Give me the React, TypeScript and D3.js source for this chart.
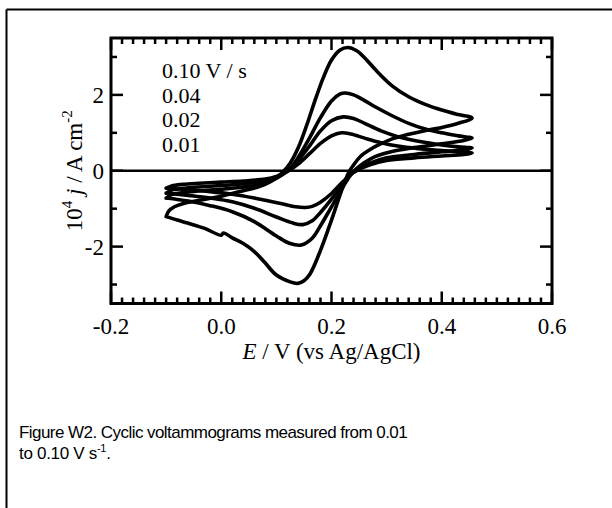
import React from "react";
import * as d3 from "d3";

// ---------- data (E in V, j in 10^-4 A cm^-2) ----------
const legendLabels = ["0.10 V / s", "0.04", "0.02", "0.01"];
const xTickLabels = ["-0.2", "0.0", "0.2", "0.4", "0.6"];
const yTickLabels = ["-2", "0", "2"];

const cv010: [number, number][] = [
  [-0.1, -1.21], [-0.095, -1.06], [-0.085, -0.95], [-0.07, -0.87], [-0.04, -0.78], [0.0, -0.67],
  [0.04, -0.53], [0.07, -0.41], [0.09, -0.28], [0.11, -0.06], [0.125, 0.2], [0.14, 0.62],
  [0.155, 1.2], [0.17, 1.85], [0.185, 2.45], [0.2, 2.92], [0.215, 3.18], [0.23, 3.25],
  [0.245, 3.17], [0.26, 2.98], [0.28, 2.66], [0.31, 2.24], [0.34, 1.95], [0.37, 1.75],
  [0.4, 1.6], [0.43, 1.48], [0.455, 1.39],
  [0.43, 1.25], [0.4, 1.14], [0.367, 1.05], [0.34, 0.96], [0.31, 0.84], [0.288, 0.7],
  [0.27, 0.56], [0.252, 0.37], [0.24, 0.15], [0.232, -0.02], [0.22, -0.45], [0.2, -1.3],
  [0.18, -2.1], [0.161, -2.72], [0.15, -2.9], [0.139, -2.97], [0.125, -2.93], [0.1, -2.75],
  [0.079, -2.42], [0.06, -2.13], [0.04, -1.92], [0.02, -1.77], [0.004, -1.64], [0.0, -1.7],
  [-0.03, -1.52], [-0.061, -1.38], [-0.08, -1.3], [-0.1, -1.21],
];

const cv004: [number, number][] = [
  [-0.1, -0.72], [-0.09, -0.63], [-0.06, -0.56], [-0.02, -0.51], [0.02, -0.46], [0.06, -0.39],
  [0.09, -0.27], [0.11, -0.11], [0.125, 0.06], [0.14, 0.36], [0.16, 0.86], [0.18, 1.4],
  [0.2, 1.84], [0.215, 2.02], [0.225, 2.05], [0.24, 2.0], [0.26, 1.85], [0.28, 1.68],
  [0.31, 1.45], [0.34, 1.25], [0.37, 1.1], [0.4, 1.0], [0.43, 0.92], [0.455, 0.86],
  [0.44, 0.8], [0.4, 0.71], [0.35, 0.61], [0.31, 0.51], [0.28, 0.38], [0.26, 0.22],
  [0.245, 0.05], [0.235, -0.1], [0.22, -0.45], [0.2, -0.95], [0.18, -1.45], [0.165, -1.78],
  [0.145, -1.96], [0.125, -1.92], [0.1, -1.72], [0.06, -1.34], [0.02, -1.08], [-0.02, -0.92],
  [-0.06, -0.8], [-0.1, -0.72],
];

const cv002: [number, number][] = [
  [-0.1, -0.59], [-0.09, -0.51], [-0.06, -0.45], [-0.02, -0.41], [0.02, -0.37], [0.06, -0.31],
  [0.09, -0.22], [0.11, -0.1], [0.125, 0.05], [0.14, 0.28], [0.16, 0.65], [0.18, 1.05],
  [0.2, 1.32], [0.221, 1.42], [0.24, 1.38], [0.26, 1.25], [0.29, 1.05], [0.32, 0.9],
  [0.36, 0.77], [0.4, 0.68], [0.43, 0.63], [0.455, 0.6],
  [0.44, 0.55], [0.4, 0.5], [0.35, 0.43], [0.3, 0.34], [0.27, 0.2], [0.25, 0.05],
  [0.236, -0.08], [0.22, -0.35], [0.2, -0.75], [0.18, -1.1], [0.165, -1.32], [0.148, -1.42],
  [0.13, -1.38], [0.1, -1.22], [0.06, -0.99], [0.02, -0.82], [-0.02, -0.72], [-0.06, -0.65],
  [-0.1, -0.59],
];

const cv001: [number, number][] = [
  [-0.1, -0.46], [-0.09, -0.4], [-0.07, -0.36], [-0.04, -0.33], [0.0, -0.3], [0.04, -0.27],
  [0.08, -0.22], [0.1, -0.15], [0.12, -0.02], [0.14, 0.18], [0.16, 0.45], [0.18, 0.72],
  [0.2, 0.92], [0.218, 1.0], [0.235, 0.97], [0.26, 0.86], [0.29, 0.74], [0.32, 0.65],
  [0.36, 0.58], [0.4, 0.53], [0.43, 0.5], [0.455, 0.47],
  [0.44, 0.43], [0.4, 0.39], [0.35, 0.34], [0.3, 0.27], [0.27, 0.16], [0.25, 0.04],
  [0.238, -0.06], [0.22, -0.3], [0.2, -0.6], [0.18, -0.83], [0.165, -0.94], [0.153, -0.97],
  [0.135, -0.95], [0.11, -0.87], [0.08, -0.78], [0.06, -0.72], [0.02, -0.62], [-0.02, -0.55],
  [-0.06, -0.5], [-0.1, -0.46],
];

const curves = [cv010, cv004, cv002, cv001];

// ---------- layout ----------
const W = 612;
const H = 508;
const left = 111;
const right = 552;
const top = 38;
const bottom = 303.5;

const serif = "'Liberation Serif', 'Times New Roman', serif";
const sans = "'Liberation Sans', Arial, sans-serif";
const axisFont = 23;

export default function App() {
  const x = d3.scaleLinear().domain([-0.2, 0.6]).range([left, right]);
  const y = d3.scaleLinear().domain([-3.5, 3.5]).range([bottom, top]);

  const line = d3
    .line<[number, number]>()
    .x((d) => x(d[0]))
    .y((d) => y(d[1]))
    .curve(d3.curveCatmullRom.alpha(0.5));

  const xMinor = d3.range(-0.2, 0.6001, 0.02);
  const xMajor = xTickLabels.map(Number);
  const yTicks = d3.range(-3, 3.001, 1);
  const yMajor = yTickLabels.map(Number);

  const isMajorX = (v: number) => xMajor.some((m) => Math.abs(m - v) < 1e-6);
  const isMajorY = (v: number) => yMajor.some((m) => Math.abs(m - v) < 1e-6);

  return (
    <svg
      width={W}
      height={H}
      style={{ position: "absolute", left: 0, top: 0, background: "#fff" }}
    >
      <rect x={0} y={0} width={W} height={H} fill="#fff" />
      {/* outer frame */}
      <line x1={6.5} y1={9.5} x2={W} y2={9.5} stroke="#000" strokeWidth={2} />
      <line x1={6.5} y1={9.5} x2={6.5} y2={H} stroke="#000" strokeWidth={2} />

      {/* zero line */}
      <line x1={left} x2={right} y1={y(0)} y2={y(0)} stroke="#000" strokeWidth={2.5} />

      <defs>
        <clipPath id="plotclip">
          <rect x={left} y={top} width={right - left} height={bottom - top} />
        </clipPath>
      </defs>

      {/* curves */}
      <g clipPath="url(#plotclip)">
        {curves.map((c, i) => (
          <path
            key={i}
            d={line(c) || ""}
            fill="none"
            stroke="#000"
            strokeWidth={3.6}
            strokeLinejoin="round"
            strokeLinecap="round"
          />
        ))}
      </g>

      {/* x ticks bottom & top */}
      {xMinor.map((v, i) => {
        const len = isMajorX(v) ? 12 : 6;
        return (
          <g key={"xt" + i}>
            <line x1={x(v)} x2={x(v)} y1={bottom} y2={bottom - len} stroke="#000" strokeWidth={2.5} />
            <line x1={x(v)} x2={x(v)} y1={top} y2={top + len} stroke="#000" strokeWidth={2.5} />
          </g>
        );
      })}
      {/* y ticks left & right */}
      {yTicks.map((v, i) => {
        const len = isMajorY(v) ? 12 : 6;
        return (
          <g key={"yt" + i}>
            <line x1={left} x2={left + len} y1={y(v)} y2={y(v)} stroke="#000" strokeWidth={2.5} />
            <line x1={right} x2={right - len} y1={y(v)} y2={y(v)} stroke="#000" strokeWidth={2.5} />
          </g>
        );
      })}

      {/* frame of plot */}
      <rect
        x={left}
        y={top}
        width={right - left}
        height={bottom - top}
        fill="none"
        stroke="#000"
        strokeWidth={3}
      />

      {/* x tick labels */}
      {xTickLabels.map((t) => (
        <text
          key={"xl" + t}
          x={x(Number(t))}
          y={bottom + 30}
          textAnchor="middle"
          fontFamily={serif}
          fontSize={axisFont}
        >
          {t}
        </text>
      ))}
      {/* y tick labels */}
      {yTickLabels.map((t) => (
        <text
          key={"yl" + t}
          x={left - 7}
          y={y(Number(t)) + 8}
          textAnchor="end"
          fontFamily={serif}
          fontSize={axisFont}
        >
          {t}
        </text>
      ))}

      {/* x title */}
      <text
        x={(left + right) / 2}
        y={bottom + 55}
        textAnchor="middle"
        fontFamily={serif}
        fontSize={axisFont}
      >
        <tspan fontStyle="italic">E</tspan>
        <tspan> / V (vs Ag/AgCl)</tspan>
      </text>

      {/* y title */}
      <text
        transform={`translate(${82},${(top + bottom) / 2}) rotate(-90)`}
        textAnchor="middle"
        fontFamily={serif}
        fontSize={axisFont}
      >
        <tspan>10</tspan>
        <tspan fontSize={15} dy={-10}>4</tspan>
        <tspan dy={10}> </tspan>
        <tspan fontStyle="italic">j</tspan>
        <tspan> / A cm</tspan>
        <tspan fontSize={15} dy={-10}>-2</tspan>
      </text>

      {/* legend */}
      {legendLabels.map((t, i) => (
        <text
          key={"lg" + i}
          x={162}
          y={78 + i * 24.6}
          fontFamily={serif}
          fontSize={22}
        >
          {t}
        </text>
      ))}

      {/* caption */}
      <text x={19} y={438} fontFamily={sans} fontSize={17} letterSpacing={-0.55}>
        Figure W2. Cyclic voltammograms measured from 0.01
      </text>
      <text x={19} y={459} fontFamily={sans} fontSize={17} letterSpacing={-0.3}>
        <tspan>to 0.10 V s</tspan>
        <tspan fontSize={11} dy={-7}>-1</tspan>
        <tspan dy={7}>.</tspan>
      </text>
    </svg>
  );
}
